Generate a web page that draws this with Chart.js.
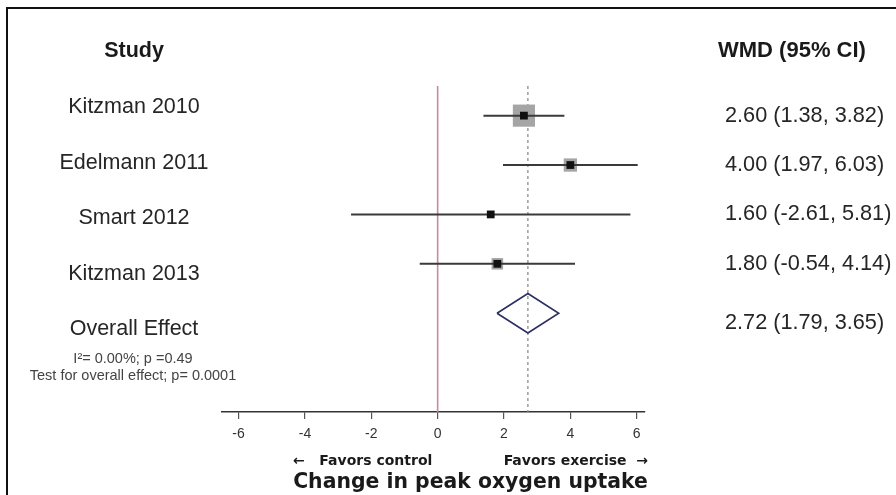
<!DOCTYPE html>
<html>
<head>
<meta charset="utf-8">
<script src="https://cdn.jsdelivr.net/npm/chart.js@4"></script>
<style>
  html, body { margin: 0; padding: 0; background: #fff; }
  canvas { display: block; }
</style>
</head>
<body>
<canvas id="forest" width="896" height="495"></canvas>
<script>
const studies = ['Kitzman 2010', 'Edelmann 2011', 'Smart 2012', 'Kitzman 2013'];
const wmd = [2.60, 4.00, 1.60, 1.80];
const ciLow = [1.38, 1.97, -2.61, -0.54];
const ciHigh = [3.82, 6.03, 5.81, 4.14];
const weights = [58.3, 21.0, 4.9, 15.8]; // study weight %, judged from box size
const overall = [2.72, 1.79, 3.65]; // estimate, low, high
const overallLabel = 'Overall Effect';
const stats = ['I\u00b2= 0.00%; p =0.49', 'Test for overall effect; p= 0.0001'];
const xTicks = [-6, -4, -2, 0, 2, 4, 6];
const xTitle = 'Change in peak oxygen uptake';
const favors = ['\u2190   Favors control', 'Favors exercise  \u2192'];
const headers = ['Study', 'WMD (95% CI)'];

const fmt = (e, lo, hi) => `${e.toFixed(2)} (${lo.toFixed(2)}, ${hi.toFixed(2)})`;
const overallRow = studies.length;
const yTop = -0.6, yBottom = overallRow + 2;

// text columns, frame and axis captions
const forestText = {
    id: 'forestText',
    beforeDraw(chart) {
        const ctx = chart.ctx;
        ctx.save();
        ctx.fillStyle = '#111';
        ctx.fillRect(6, 7, 890, 2);
        ctx.fillRect(6, 7, 2, 488);
        ctx.restore();
    },
    afterDraw(chart) {
        const ctx = chart.ctx;
        const y = chart.scales.y;
        ctx.save();
        ctx.textBaseline = 'middle';

        // left column
        ctx.fillStyle = '#1a1a1a';
        ctx.textAlign = 'center';
        ctx.font = 'bold 21.5px "Liberation Sans", Arial, sans-serif';
        ctx.fillText(headers[0], 134, 51);
        ctx.fillStyle = '#262626';
        ctx.font = '21.5px "Liberation Sans", Arial, sans-serif';
        studies.forEach((s, i) => ctx.fillText(s, 134, 107.5 + 55.4 * i));
        ctx.fillText(overallLabel, 134, 329);
        ctx.fillStyle = '#444';
        ctx.font = '14.5px "Liberation Sans", Arial, sans-serif';
        ctx.fillText(stats[0], 133, 359);
        ctx.fillText(stats[1], 133, 376);

        // right column
        ctx.textAlign = 'left';
        ctx.fillStyle = '#1a1a1a';
        ctx.font = 'bold 22px "Liberation Sans", Arial, sans-serif';
        ctx.fillText(headers[1], 718, 51);
        ctx.fillStyle = '#262626';
        ctx.font = '21.7px "Liberation Sans", Arial, sans-serif';
        studies.forEach((s, i) => {
            ctx.fillText(fmt(wmd[i], ciLow[i], ciHigh[i]), 725, y.getPixelForValue(i));
        });
        ctx.fillText(fmt(overall[0], overall[1], overall[2]), 725, y.getPixelForValue(overallRow) + 10);

        // captions under the axis
        ctx.fillStyle = '#1a1a1a';
        ctx.font = 'bold 14px "DejaVu Sans", Verdana, sans-serif';
        ctx.fillText(favors[0], 293, 461);
        ctx.textAlign = 'right';
        ctx.fillText(favors[1], 648, 461);
        ctx.textAlign = 'center';
        ctx.textBaseline = 'alphabetic';
        ctx.font = 'bold 20.4px "DejaVu Sans", Verdana, sans-serif';
        ctx.fillText(xTitle, 470.5, 488);
        ctx.restore();
    }
};

const pts = studies.map((_, i) => ({ x: wmd[i], y: i }));

const datasets = [
    {
        data: pts,
        pointStyle: 'rect',
        pointRadius: 5.5,
        backgroundColor: '#111',
        borderWidth: 0
    },
    ...studies.map((_, i) => ({
        data: [{ x: ciLow[i], y: i }, { x: ciHigh[i], y: i }],
        showLine: true,
        borderColor: '#3a3a3a',
        borderWidth: 2,
        pointRadius: 0
    })),
    {
        data: pts,
        pointStyle: 'rect',
        pointRadius: ctx => 2.05 * Math.sqrt(weights[ctx.dataIndex]),
        backgroundColor: '#a5a5a5',
        borderWidth: 0
    },
    {
        data: [
            { x: overall[1], y: overallRow },
            { x: overall[0], y: overallRow - 0.4 },
            { x: overall[2], y: overallRow },
            { x: overall[0], y: overallRow + 0.4 },
            { x: overall[1], y: overallRow }
        ],
        showLine: true,
        borderColor: '#2d2f5f',
        borderWidth: 1.6,
        pointRadius: 0
    },
    {
        data: [{ x: overall[0], y: yTop }, { x: overall[0], y: yBottom }],
        showLine: true,
        borderColor: '#8c8c8c',
        borderWidth: 1.3,
        borderDash: [3, 3],
        pointRadius: 0
    },
    {
        data: [{ x: 0, y: yTop }, { x: 0, y: yBottom }],
        showLine: true,
        borderColor: '#c98a9a',
        borderWidth: 1.6,
        pointRadius: 0
    }
];

const chart = new Chart(document.getElementById('forest'), {
    type: 'scatter',
    data: { datasets: datasets },
    options: {
        responsive: false,
        animation: false,
        events: [],
        layout: { padding: { left: 222, right: 251, top: 86, bottom: 0 } },
        plugins: { legend: { display: false }, tooltip: { enabled: false } },
        scales: {
            x: {
                type: 'linear',
                min: -6.5,
                max: 6.25,
                afterBuildTicks: s => { s.ticks = xTicks.map(v => ({ value: v })); },
                afterFit: s => { s.height = 83; },
                grid: { drawOnChartArea: false, drawTicks: true, tickLength: 7, color: '#555', lineWidth: 1.2 },
                border: { display: true, color: '#333', width: 1.5 },
                ticks: {
                    padding: 7,
                    color: '#333',
                    font: { family: '"Liberation Sans", Arial, sans-serif', size: 14 }
                }
            },
            y: {
                type: 'linear',
                display: false,
                reverse: true,
                min: yTop,
                max: yBottom
            }
        }
    },
    plugins: [forestText]
});
</script>
</body>
</html>
